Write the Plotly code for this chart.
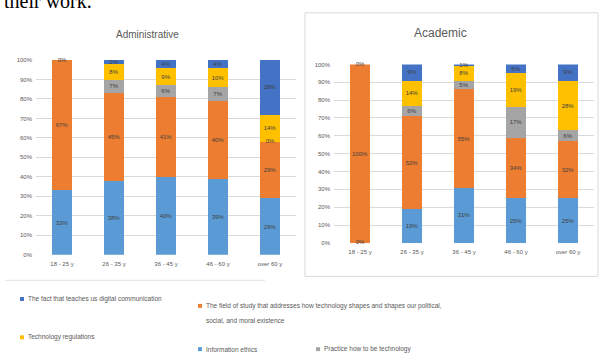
import plotly.graph_objects as go

W, H = 603, 360

categories = ["18 - 25 y", "26 - 35 y", "36 - 45 y", "46 - 60 y", "over 60 y"]

series_names = [
    "Information ethics",
    "The field of study that addresses how technology shapes and shapes our political, social, and moral existence",
    "Practice how to be technology",
    "Technology regulations",
    "The fact that teaches us digital communication",
]
series_colors = ["#5B9BD5", "#ED7D31", "#A5A5A5", "#FFC000", "#4472C4"]

# Administrative (percent)
info_ethics_admin = [33, 38, 40, 39, 29]
field_admin = [67, 45, 41, 40, 29]
practice_admin = [0, 7, 6, 7, 0]
regulations_admin = [0, 8, 9, 10, 14]
digital_admin = [0, 2, 4, 4, 28]

# Academic (percent)
info_ethics_acad = [0, 19, 31, 25, 25]
field_acad = [100, 52, 55, 34, 32]
practice_acad = [0, 6, 5, 17, 6]
regulations_acad = [0, 14, 8, 19, 28]
digital_acad = [0, 9, 1, 5, 9]

y_ticks = [0, 10, 20, 30, 40, 50, 60, 70, 80, 90, 100]
y_tick_labels = [f"{v}%" for v in y_ticks]

admin = [info_ethics_admin, field_admin, practice_admin, regulations_admin, digital_admin]
acad = [info_ethics_acad, field_acad, practice_acad, regulations_acad, digital_acad]


def px(x):
    return x / W


def py(y):
    return 1 - y / H


LABEL_FONT = "Liberation Sans Narrow, Liberation Sans, Arial, sans-serif"
TXT = "#404040"
AX = "#595959"

fig = go.Figure()

for panel, (data, xa, ya) in enumerate([(admin, "x", "y"), (acad, "x2", "y2")]):
    for i, vals in enumerate(data):
        fig.add_trace(go.Bar(
            x=categories, y=vals, name=series_names[i],
            marker=dict(color=series_colors[i], line=dict(width=0)),
            text=[f"{v}%" if v > 0 else "" for v in vals],
            textposition="inside", insidetextanchor="middle", textangle=0,
            textfont=dict(size=6, color=TXT, family=LABEL_FONT),
            xaxis=xa, yaxis=ya, showlegend=False, cliponaxis=False,
        ))
    # zero-value labels placed at their stacked position
    zx, zy = [], []
    for j, cat in enumerate(categories):
        base = 0
        seen = set()
        for vals in data:
            if vals[j] == 0 and base not in seen:
                zx.append(cat)
                zy.append(base)
                seen.add(base)
            base += vals[j]
    fig.add_trace(go.Scatter(
        x=zx, y=zy, mode="text", text=["0%"] * len(zx),
        textfont=dict(size=6, color=TXT, family=LABEL_FONT),
        xaxis=xa, yaxis=ya, showlegend=False, cliponaxis=False, hoverinfo="skip",
    ))

axis_common = dict(showline=False, ticks="", zeroline=False)
yaxis_common = dict(
    range=[0, 100], tickmode="array", tickvals=y_ticks, ticktext=y_tick_labels,
    showgrid=True, gridcolor="#D9D9D9", gridwidth=1, zeroline=False, ticks="",
    tickfont=dict(size=6, color=AX, family=LABEL_FONT),
)

fig.update_layout(
    width=W, height=H, margin=dict(l=0, r=0, t=0, b=0),
    paper_bgcolor="white", plot_bgcolor="white",
    barmode="stack", bargap=0.6,
    uniformtext=dict(minsize=6, mode="show"),
    xaxis=dict(domain=[px(36), px(296)], anchor="y", **axis_common,
               tickfont=dict(size=6, color=AX, family=LABEL_FONT)),
    yaxis=dict(domain=[py(256), py(58)], anchor="x", **yaxis_common),
    xaxis2=dict(domain=[px(334), px(594)], anchor="y2", **axis_common,
                tickfont=dict(size=6, color=AX, family=LABEL_FONT)),
    yaxis2=dict(domain=[py(244), py(62.5)], anchor="x2", **yaxis_common),
)
fig.update_xaxes(ticklabelstandoff=4)
fig.update_yaxes(ticklabelstandoff=3)

annotations = [
    dict(text="their work.", x=px(2), y=py(11), xanchor="left", yanchor="bottom",
         font=dict(family="Liberation Serif, Times New Roman, serif", size=20, color="black")),
    dict(text="Administrative", x=px(147), y=py(32), xanchor="center", yanchor="middle",
         font=dict(family=LABEL_FONT, size=10, color=AX)),
    dict(text="Academic", x=px(440), y=py(31), xanchor="center", yanchor="middle",
         font=dict(family=LABEL_FONT, size=12, color=AX)),
]

# legend (manual layout like the Excel legend)
legend_items = [
    (4, 22, 301, [series_names[4]]),
    (1, 200, 308, ["The field of study that addresses how technology shapes and shapes our political,",
                   "social, and moral existence"]),
    (3, 22, 340, [series_names[3]]),
    (0, 200, 352, [series_names[0]]),
    (2, 318, 352, [series_names[2]]),
]
shapes = []
for idx, lx, ly, lines in legend_items:
    shapes.append(dict(type="rect", xref="paper", yref="paper",
                       x0=px(lx - 2), x1=px(lx + 2), y0=py(ly + 2), y1=py(ly - 2),
                       fillcolor=series_colors[idx], line=dict(width=0)))
    for k, line in enumerate(lines):
        annotations.append(dict(text=line, x=px(lx + 4), y=py(ly + k * 15),
                                xanchor="left", yanchor="middle",
                                font=dict(family=LABEL_FONT, size=6.5, color=AX)))

# chart frames
shapes.append(dict(type="rect", xref="paper", yref="paper",
                   x0=px(305), x1=px(598), y0=py(278), y1=py(10),
                   line=dict(color="#D9D9D9", width=1)))
shapes.append(dict(type="line", xref="paper", yref="paper",
                   x0=px(5), x1=px(265), y0=py(282), y1=py(282),
                   line=dict(color="#E3E3E3", width=1)))

for a in annotations:
    a.setdefault("showarrow", False)
    a.setdefault("xref", "paper")
    a.setdefault("yref", "paper")

fig.update_layout(annotations=annotations, shapes=shapes)

fig.write_html("out.html")
